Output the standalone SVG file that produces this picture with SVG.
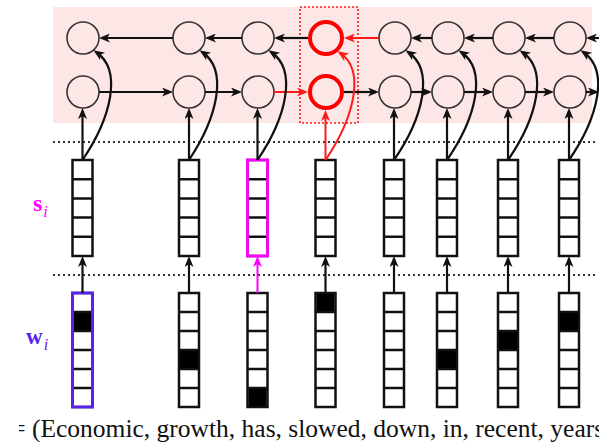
<svg xmlns="http://www.w3.org/2000/svg" xmlns:xlink="http://www.w3.org/1999/xlink" width="599" height="442" viewBox="0 0 599 442">
<style>
.bg{fill:#fde6e6}
.dot{stroke:#333;stroke-width:2;stroke-dasharray:2 3;fill:none}
.cell{fill:none;stroke:#333;stroke-width:1.6}
.cellr{fill:none;stroke:#ff0000;stroke-width:4}
.c{fill:none;stroke-width:2.2;stroke:#111}
.cr{fill:none;stroke-width:2;stroke:#ff1a1a}
.cm{fill:none;stroke-width:2;stroke:#ff00ff}
.vec{fill:#fff;stroke:#111;stroke-width:2.5}
.bm{fill:none;stroke:#ff00ff;stroke-width:2.8}
.bb{fill:none;stroke:#5a22f0;stroke-width:2.8}
.lbl{font-family:'Liberation Serif','Times New Roman',serif}
</style>
<defs>
<marker id="ak" viewBox="-9 -4.5 12 9" markerWidth="12" markerHeight="9" refX="0" refY="0" markerUnits="userSpaceOnUse" orient="auto"><path d="M3,0 L-8,-4.5 L-5,0 L-8,4.5 Z" fill="#111"/></marker>
<marker id="ar" viewBox="-9 -4.5 12 9" markerWidth="12" markerHeight="9" refX="0" refY="0" markerUnits="userSpaceOnUse" orient="auto"><path d="M3,0 L-8,-4.5 L-5,0 L-8,4.5 Z" fill="#ff1a1a"/></marker>
<marker id="am" viewBox="-9 -4.5 12 9" markerWidth="12" markerHeight="9" refX="0" refY="0" markerUnits="userSpaceOnUse" orient="auto"><path d="M3,0 L-8,-4.5 L-5,0 L-8,4.5 Z" fill="#ff00ff"/></marker>
<g id="svec"><rect x="-10" y="0" width="20" height="96"/><path d="M-10 19.2H10M-10 38.4H10M-10 57.6H10M-10 76.8H10"/></g>
<g id="wvec"><rect x="-10" y="0" width="20" height="114"/><path d="M-10 19H10M-10 38H10M-10 57H10M-10 76H10M-10 95H10"/></g>
<clipPath id="txtclip"><rect x="19" y="400" width="580" height="42"/></clipPath>
</defs>

<rect class="bg" x="53" y="7" width="539" height="116"/>
<line class="dot" x1="53" y1="142" x2="597" y2="142"/>
<line class="dot" x1="53" y1="275" x2="597" y2="275"/>

<g id="hidden-units">
<g id="h1"><circle class="cell" cx="83" cy="38" r="16"/><circle class="cell" cx="83" cy="92" r="16"/></g>
<g id="h2"><circle class="cell" cx="189" cy="38" r="16"/><circle class="cell" cx="189" cy="92" r="16"/></g>
<g id="h3"><circle class="cell" cx="258" cy="38" r="16"/><circle class="cell" cx="258" cy="92" r="16"/></g>
<g id="h4"><rect x="300" y="7" width="58" height="116" fill="none" stroke="#ff1a1a" stroke-width="1.6" stroke-dasharray="2 2"/><circle class="cellr" cx="326" cy="38" r="16"/><circle class="cellr" cx="326" cy="92" r="16"/></g>
<g id="h5"><circle class="cell" cx="395" cy="38" r="16"/><circle class="cell" cx="395" cy="92" r="16"/></g>
<g id="h6"><circle class="cell" cx="448" cy="38" r="16"/><circle class="cell" cx="448" cy="92" r="16"/></g>
<g id="h7"><circle class="cell" cx="509" cy="38" r="16"/><circle class="cell" cx="509" cy="92" r="16"/></g>
<g id="h8"><circle class="cell" cx="570" cy="38" r="16"/><circle class="cell" cx="570" cy="92" r="16"/></g>
</g>

<g id="s-vectors">
<g id="s1"><use xlink:href="#svec" class="vec" transform="translate(82.5,160)"/></g>
<g id="s2"><use xlink:href="#svec" class="vec" transform="translate(189,160)"/></g>
<g id="s3"><use xlink:href="#svec" class="vec" transform="translate(257.5,160)"/><rect class="bm" x="247.5" y="160" width="20" height="96"/></g>
<g id="s4"><use xlink:href="#svec" class="vec" transform="translate(325.5,160)"/></g>
<g id="s5"><use xlink:href="#svec" class="vec" transform="translate(394,160)"/></g>
<g id="s6"><use xlink:href="#svec" class="vec" transform="translate(447,160)"/></g>
<g id="s7"><use xlink:href="#svec" class="vec" transform="translate(508,160)"/></g>
<g id="s8"><use xlink:href="#svec" class="vec" transform="translate(569,160)"/></g>
</g>

<g id="w-vectors">
<g id="w1"><rect x="73.5" y="313" width="18" height="17" fill="#000"/><use xlink:href="#wvec" class="vec" transform="translate(82.5,293)" fill-opacity="0"/><rect class="bb" x="72.5" y="293" width="20" height="114"/></g>
<g id="w2"><use xlink:href="#wvec" class="vec" transform="translate(189,293)"/><rect x="180" y="351" width="18" height="17" fill="#000"/></g>
<g id="w3"><use xlink:href="#wvec" class="vec" transform="translate(257.5,293)"/><rect x="248.5" y="389" width="18" height="17" fill="#000"/></g>
<g id="w4"><use xlink:href="#wvec" class="vec" transform="translate(325.5,293)"/><rect x="316.5" y="294" width="18" height="17" fill="#000"/></g>
<g id="w5"><use xlink:href="#wvec" class="vec" transform="translate(394,293)"/></g>
<g id="w6"><use xlink:href="#wvec" class="vec" transform="translate(447,293)"/><rect x="438" y="351" width="18" height="17" fill="#000"/></g>
<g id="w7"><use xlink:href="#wvec" class="vec" transform="translate(508,293)"/><rect x="499" y="332" width="18" height="17" fill="#000"/></g>
<g id="w8"><use xlink:href="#wvec" class="vec" transform="translate(569,293)"/><rect x="560" y="313" width="18" height="17" fill="#000"/></g>
</g>

<g id="labels">
<g id="label-s"><text class="lbl" x="33" y="211" font-size="24" font-weight="bold" fill="#ff00ff">s<tspan font-size="16" font-style="italic" font-weight="normal" dx="1" dy="6">i</tspan></text></g>
<g id="label-w"><text class="lbl" x="26" y="344" font-size="23" font-weight="bold" fill="#5a22f0">w<tspan font-size="16" font-style="italic" font-weight="normal" dx="1" dy="6">i</tspan></text></g>
<g id="sentence"><text class="lbl" x="11.2" y="437" font-size="25.5" fill="#111" clip-path="url(#txtclip)">= (Economic, growth, has, slowed, down, in, recent, years</text></g>
</g>

<g id="connectors">
<path class="c" d="M173,38 H102" marker-end="url(#ak)"/>
<path class="c" d="M242,38 H208" marker-end="url(#ak)"/>
<path class="c" d="M308,38 H277" marker-end="url(#ak)"/>
<path class="cr" d="M379,38 H347" marker-end="url(#ar)"/>
<path class="c" d="M432,38 H414" marker-end="url(#ak)"/>
<path class="c" d="M493,38 H467" marker-end="url(#ak)"/>
<path class="c" d="M554,38 H528" marker-end="url(#ak)"/>
<path class="c" d="M605,38 H589" marker-end="url(#ak)"/>
<path class="c" d="M99,92 H170" marker-end="url(#ak)"/>
<path class="c" d="M205,92 H239" marker-end="url(#ak)"/>
<path class="cr" d="M274,92 H305" marker-end="url(#ar)"/>
<path class="c" d="M344,92 H376" marker-end="url(#ak)"/>
<path class="c" d="M411,92 H429" marker-end="url(#ak)"/>
<path class="c" d="M464,92 H490" marker-end="url(#ak)"/>
<path class="c" d="M525,92 H551" marker-end="url(#ak)"/>
<path class="c" d="M586,92 H596" marker-end="url(#ak)"/>
<path class="c" d="M82.5,160 V111" marker-end="url(#ak)"/>
<path class="c" d="M189,160 V111" marker-end="url(#ak)"/>
<path class="c" d="M257.5,160 V111" marker-end="url(#ak)"/>
<path class="cr" d="M325.5,160 V113" marker-end="url(#ar)"/>
<path class="c" d="M394,160 V111" marker-end="url(#ak)"/>
<path class="c" d="M447,160 V111" marker-end="url(#ak)"/>
<path class="c" d="M508,160 V111" marker-end="url(#ak)"/>
<path class="c" d="M569,160 V111" marker-end="url(#ak)"/>
<path class="c" d="M82.5,160 C111,118 123,70 96,52" marker-end="url(#ak)"/>
<path class="c" d="M189,160 C217,118 229,70 202,52" marker-end="url(#ak)"/>
<path class="c" d="M257.5,160 C286,118 298,70 271,52" marker-end="url(#ak)"/>
<path class="cr" d="M325.5,160 C354,118 366,70 340,53" marker-end="url(#ar)"/>
<path class="c" d="M394,160 C423,118 435,70 408,52" marker-end="url(#ak)"/>
<path class="c" d="M447,160 C476,118 488,70 461,52" marker-end="url(#ak)"/>
<path class="c" d="M508,160 C537,118 549,70 522,52" marker-end="url(#ak)"/>
<path class="c" d="M569,160 C598,118 610,70 583,52" marker-end="url(#ak)"/>
<path class="c" d="M82.5,293 V259" marker-end="url(#ak)"/>
<path class="c" d="M189,293 V259" marker-end="url(#ak)"/>
<path class="cm" d="M257.5,293 V259" marker-end="url(#am)"/>
<path class="c" d="M325.5,293 V259" marker-end="url(#ak)"/>
<path class="c" d="M394,293 V259" marker-end="url(#ak)"/>
<path class="c" d="M447,293 V259" marker-end="url(#ak)"/>
<path class="c" d="M508,293 V259" marker-end="url(#ak)"/>
<path class="c" d="M569,293 V259" marker-end="url(#ak)"/>
</g>
</svg>
